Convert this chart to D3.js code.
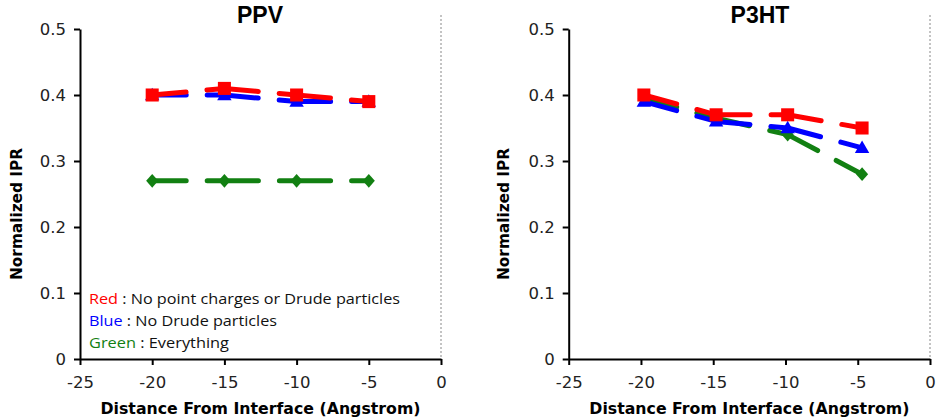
<!DOCTYPE html>
<html><head><meta charset="utf-8">
<script src="https://cdn.jsdelivr.net/npm/d3@7"></script>
<style>body{margin:0;background:#fff}</style>
</head><body>
<svg id="c" width="938" height="419"></svg>
<script>
const xTicks = [-25, -20, -15, -10, -5, 0];
const yTicks = [0, 0.1, 0.2, 0.3, 0.4, 0.5];
const ppvX = [-20, -15, -10, -5];
const ppvRed = [0.40, 0.41, 0.40, 0.39];
const ppvBlue = [0.40, 0.40, 0.39, 0.39];
const ppvGreen = [0.27, 0.27, 0.27, 0.27];
const p3htX = [-19.8, -14.8, -9.85, -4.7];
const p3htRed = [0.40, 0.37, 0.37, 0.35];
const p3htBlue = [0.39, 0.36, 0.35, 0.32];
const p3htGreen = [0.395, 0.365, 0.34, 0.28];
const legendLabels = ["Red", "Blue", "Green"];
const legendTexts = [" : No point charges or Drude particles", " : No Drude particles", " : Everything"];
const legendWidths = [311, 188, 140];

const colors = {red: "#ff0000", blue: "#0000ff", green: "#128012"};
const svg = d3.select("#c");

function panel(left, right, title, titleX, xs, series, yLabelX, legend) {
  const x = d3.scaleLinear().domain([-25, 0]).range([left, right]);
  const y = d3.scaleLinear().domain([0, 0.5]).range([359, 29]);
  const g = svg.append("g");
  g.append("line").attr("x1", x(0)).attr("x2", x(0)).attr("y1", 15).attr("y2", 359)
    .attr("stroke", "#888").attr("stroke-width", 1).attr("stroke-dasharray", "2,2");
  const xa = g.append("g").attr("transform", `translate(0,${y(0)})`)
    .call(d3.axisBottom(x).tickValues(xTicks).tickSize(6).tickSizeOuter(0).tickFormat(d => String(d)));
  const ya = g.append("g").attr("transform", `translate(${x(-25)},0)`)
    .call(d3.axisLeft(y).tickValues(yTicks).tickSize(6).tickSizeOuter(0).tickFormat(d => d === 0 ? "0" : d3.format(".1f")(d)));
  [xa, ya].forEach(a => {
    a.select(".domain").attr("stroke", "#000").attr("stroke-width", 2);
    a.selectAll(".tick line").attr("stroke", "#000").attr("stroke-width", 2);
    a.selectAll(".tick text").attr("font-family", "DejaVu Sans").attr("font-size", 16.5).attr("fill", "#222");
  });
  xa.selectAll(".tick text").attr("dy", "1.2em");
  ya.selectAll(".tick text").attr("dx", "-0.3em");
  series.forEach(s => {
    for (let i = 0; i < xs.length - 1; i++) {
      g.append("line")
        .attr("x1", x(xs[i])).attr("y1", y(s.v[i]))
        .attr("x2", x(xs[i + 1])).attr("y2", y(s.v[i + 1]))
        .attr("stroke", s.c).attr("stroke-width", 5)
        .attr("stroke-linecap", "round").attr("stroke-dasharray", "34,21");
    }
  });
  series.forEach(s => {
    const sym = d3.symbol().type(s.t).size(s.sz);
    g.selectAll(null).data(xs).join("path")
      .attr("d", sym)
      .attr("transform", (d, i) => `translate(${x(d)},${y(s.v[i]) + (s.dy || 0)})` + (s.t === d3.symbolDiamond ? " scale(1.3,0.85)" : ""))
      .attr("fill", s.c);
  });
  g.append("text").attr("x", titleX).attr("y", 23).attr("text-anchor", "middle")
    .attr("font-family", "Liberation Sans").attr("font-weight", "bold").attr("font-size", 23).text(title);
  g.append("text").attr("x", (left + right) / 2).attr("y", 414).attr("text-anchor", "middle")
    .attr("font-family", "DejaVu Sans").attr("font-weight", "bold").attr("font-size", 15)
    .attr("textLength", 320).attr("lengthAdjust", "spacingAndGlyphs")
    .text("Distance From Interface (Angstrom)");
  g.append("text").attr("transform", `translate(${yLabelX},214) rotate(-90)`).attr("text-anchor", "middle")
    .attr("font-family", "DejaVu Sans").attr("font-weight", "bold").attr("font-size", 15)
    .attr("textLength", 132).attr("lengthAdjust", "spacingAndGlyphs")
    .text("Normalized IPR");
  if (legend) {
    const lc = [colors.red, colors.blue, colors.green];
    legendLabels.forEach((l, i) => {
      const t = g.append("text").attr("x", 89).attr("y", 304 + i * 22.2)
        .attr("font-family", "Open Sans").attr("font-size", 15).attr("fill", "#111")
        .attr("textLength", legendWidths[i]).attr("lengthAdjust", "spacingAndGlyphs");
      t.append("tspan").attr("fill", lc[i]).text(l);
      t.append("tspan").text(legendTexts[i]);
    });
  }
}

panel(80, 441, "PPV", 260, ppvX, [
  {v: ppvGreen, c: colors.green, t: d3.symbolDiamond, sz: 75},
  {v: ppvBlue, c: colors.blue, t: d3.symbolTriangle, sz: 90, dy: 1},
  {v: ppvRed, c: colors.red, t: d3.symbolSquare, sz: 170}
], 22, true);

panel(568.7, 930, "P3HT", 760, p3htX, [
  {v: p3htGreen, c: colors.green, t: d3.symbolDiamond, sz: 75},
  {v: p3htBlue, c: colors.blue, t: d3.symbolTriangle, sz: 90, dy: 1},
  {v: p3htRed, c: colors.red, t: d3.symbolSquare, sz: 170}
], 509, false);
</script>
</body></html>
